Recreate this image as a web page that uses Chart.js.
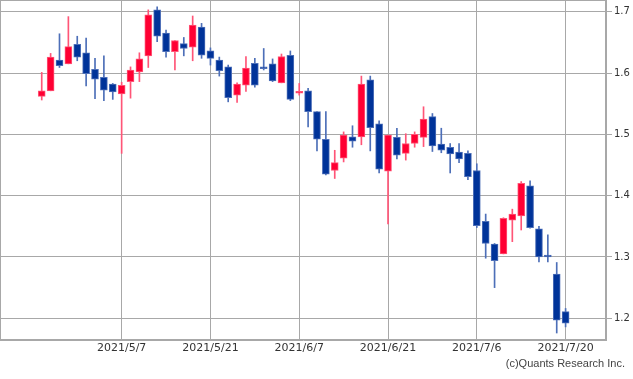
<!DOCTYPE html>
<html>
<head>
<meta charset="utf-8">
<script src="https://cdn.jsdelivr.net/npm/chart.js@4"></script>
<style>
html,body{margin:0;padding:0;background:#fff}
</style>
</head>
<body>
<canvas id="c" width="633" height="379"></canvas>
<script>
// daily candles, 2021/4/26 .. 2021/7/20 (index 0..59)
const open = [1.562,1.571,1.621,1.615,1.647,1.633,1.606,1.593,1.582,1.566,
  1.586,1.602,1.628,1.703,1.665,1.635,1.648,1.642,1.675,1.636,
  1.621,1.610,1.564,1.580,1.616,1.609,1.615,1.584,1.629,1.567,
  1.571,1.537,1.492,1.441,1.461,1.496,1.496,1.589,1.517,1.440,
  1.495,1.469,1.485,1.495,1.529,1.484,1.479,1.471,1.469,1.441,
  1.358,1.321,1.305,1.360,1.367,1.416,1.346,1.303,1.272,1.211];
const high = [1.601,1.632,1.664,1.692,1.660,1.657,1.624,1.628,1.583,1.585,
  1.610,1.633,1.703,1.708,1.670,1.653,1.658,1.693,1.681,1.641,
  1.626,1.613,1.584,1.627,1.624,1.640,1.623,1.631,1.636,1.583,
  1.575,1.537,1.537,1.474,1.504,1.514,1.595,1.595,1.522,1.499,
  1.510,1.501,1.504,1.545,1.534,1.510,1.485,1.485,1.473,1.452,
  1.370,1.322,1.364,1.378,1.423,1.424,1.350,1.336,1.291,1.216];
const low = [1.556,1.571,1.609,1.615,1.620,1.579,1.558,1.555,1.557,1.469,
  1.559,1.586,1.609,1.651,1.626,1.605,1.628,1.620,1.624,1.613,
  1.595,1.553,1.552,1.570,1.577,1.605,1.586,1.584,1.555,1.564,
  1.512,1.473,1.434,1.428,1.455,1.479,1.483,1.473,1.437,1.354,
  1.460,1.458,1.479,1.480,1.472,1.470,1.437,1.454,1.426,1.348,
  1.298,1.250,1.305,1.325,1.344,1.347,1.292,1.292,1.176,1.186];
const close = [1.571,1.626,1.612,1.643,1.626,1.599,1.590,1.572,1.569,1.580,
  1.605,1.623,1.695,1.660,1.635,1.653,1.640,1.678,1.629,1.624,
  1.604,1.560,1.582,1.608,1.580,1.607,1.587,1.627,1.557,1.570,
  1.537,1.492,1.435,1.454,1.499,1.489,1.582,1.511,1.443,1.499,
  1.466,1.485,1.500,1.525,1.481,1.474,1.468,1.460,1.431,1.351,
  1.322,1.294,1.363,1.370,1.420,1.348,1.300,1.300,1.197,1.192];

const tickIndex = [9, 19, 29, 39, 49, 59];
const tickDates = ['2021/5/7', '2021/5/21', '2021/6/7', '2021/6/21', '2021/7/6', '2021/7/20'];
const yTicks = [1.2, 1.3, 1.4, 1.5, 1.6, 1.7];

const UP = '#ff0033', DOWN = '#003399';
const UP_EDGE = '#ff5577', DOWN_EDGE = '#4d6fb8';
const gridColor = '#a8a8a8';

const isUp = open.map((o, i) => close[i] >= o);
const fill = isUp.map(u => u ? UP : DOWN);
const edge = isUp.map(u => u ? UP_EDGE : DOWN_EDGE);
const wicks = open.map((o, i) => ({ x: i, y: [low[i], high[i]] }));
const bodies = open.map((o, i) => ({ x: i, y: [o, close[i]] }));

const frame = {
  id: 'frame',
  afterDraw(chart) {
    const { ctx, chartArea: a } = chart;
    ctx.save();
    ctx.strokeStyle = gridColor;
    ctx.lineWidth = 1;
    ctx.strokeRect(Math.round(a.left) + 0.5, Math.round(a.top) + 0.5,
      Math.round(a.right - a.left) - 1, Math.round(a.bottom - a.top) - 1);
    ctx.fillStyle = '#444';
    ctx.font = '11px "Liberation Sans", sans-serif';
    ctx.textAlign = 'right';
    ctx.textBaseline = 'middle';
    ctx.fillText('(c)Quants Research Inc.', 625, 364);
    ctx.restore();
  }
};

new Chart(document.getElementById('c'), {
  type: 'bar',
  data: {
    datasets: [
      { data: wicks, barThickness: 1, backgroundColor: edge, grouped: false, order: 2 },
      { data: bodies, barThickness: 7, backgroundColor: fill, borderColor: edge, borderWidth: 1,
        borderSkipped: false, minBarLength: 2, grouped: false, order: 1 }
    ]
  },
  options: {
    responsive: false,
    animation: false,
    layout: { padding: 0 },
    plugins: { legend: { display: false }, tooltip: { enabled: false } },
    scales: {
      x: {
        type: 'linear', min: -4.7, max: 63.55, position: 'bottom', offset: false,
        afterBuildTicks: s => { s.ticks = tickIndex.map(v => ({ value: v })); },
        afterFit: s => { s.height = 39; s.paddingLeft = 0; s.paddingRight = 0; },
        grid: { color: gridColor, drawTicks: false, offset: false },
        border: { color: gridColor },
        ticks: {
          autoSkip: false, maxRotation: 0, padding: 2, color: '#333',
          font: { family: 'DejaVu Sans', size: 11 },
          callback: (v, i) => tickDates[i]
        }
      },
      y: {
        position: 'right', min: 1.1646, max: 1.7191,
        afterBuildTicks: s => { s.ticks = yTicks.map(v => ({ value: v })); },
        afterFit: s => { s.width = 27; s.paddingTop = 0; s.paddingBottom = 0; },
        grid: { color: gridColor, tickLength: 6 },
        border: { color: gridColor },
        ticks: {
          padding: 2, color: '#333',
          font: { family: 'DejaVu Sans', size: 10 },
          callback: v => v.toFixed(1)
        }
      }
    }
  },
  plugins: [frame]
});
</script>
</body>
</html>
